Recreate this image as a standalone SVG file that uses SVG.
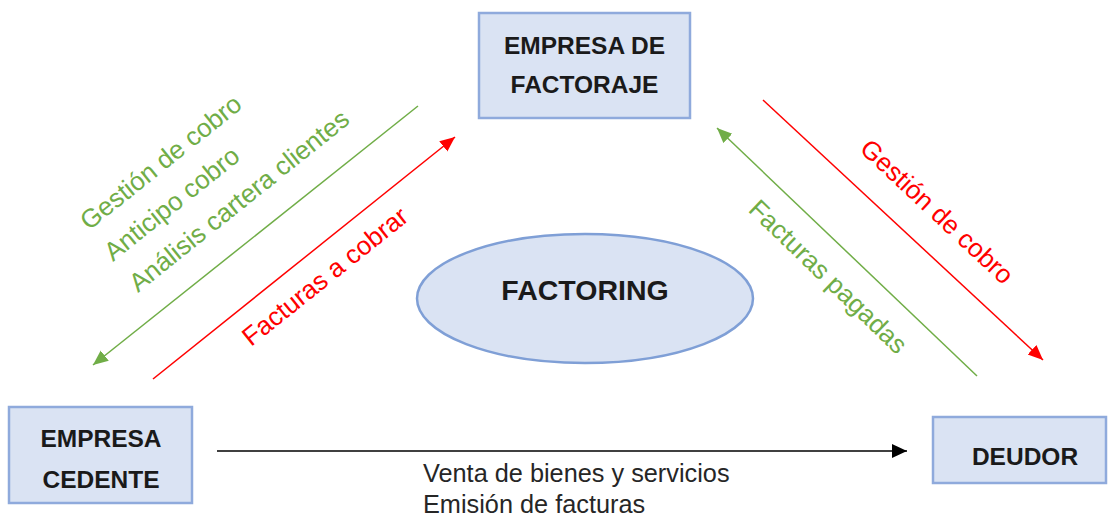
<svg xmlns="http://www.w3.org/2000/svg" width="1108" height="528" viewBox="0 0 1108 528">
<style>
.box{fill:#DAE3F3;stroke:#8FAADC;stroke-width:2.5}
.bt{font-family:"Liberation Sans",Arial,sans-serif;font-weight:bold;font-size:24.5px;fill:#1a1a1a;text-anchor:middle}
.lbl{font-family:"Liberation Sans",Arial,sans-serif;font-size:26px}
.g{fill:#70AD47}
.r{fill:#FF0000}
.k{font-family:"Liberation Sans",Arial,sans-serif;font-size:25.3px;fill:#262626}
</style>
<defs>
<marker id="ar" markerUnits="userSpaceOnUse" markerWidth="16" markerHeight="14" refX="15" refY="6.5" orient="auto"><path d="M0,0 L15,6.5 L0,13 z" fill="#FF0000"/></marker>
<marker id="ag" markerUnits="userSpaceOnUse" markerWidth="16" markerHeight="14" refX="15" refY="6.5" orient="auto"><path d="M0,0 L15,6.5 L0,13 z" fill="#70AD47"/></marker>
<marker id="ak" markerUnits="userSpaceOnUse" markerWidth="16" markerHeight="14" refX="15" refY="7" orient="auto"><path d="M0,0 L15,7 L0,14 z" fill="#000"/></marker>
</defs>
<g id="connectors">
<line x1="418" y1="106" x2="93" y2="365" stroke="#70AD47" stroke-width="1.5" marker-end="url(#ag)"/>
<line x1="153" y1="379" x2="455" y2="137" stroke="#FF0000" stroke-width="1.5" marker-end="url(#ar)"/>
<line x1="763" y1="100" x2="1043" y2="360" stroke="#FF0000" stroke-width="1.5" marker-end="url(#ar)"/>
<line x1="977" y1="376" x2="717" y2="128" stroke="#70AD47" stroke-width="1.5" marker-end="url(#ag)"/>
<line x1="217" y1="451" x2="907" y2="451" stroke="#000" stroke-width="1.5" marker-end="url(#ak)"/>
<text class="lbl g" transform="translate(89,231) rotate(-38.7)">Gestión de cobro</text>
<text class="lbl g" transform="translate(113,262) rotate(-38.7)">Anticipo cobro</text>
<text class="lbl g" transform="translate(138,293) rotate(-38.7)">Análisis cartera clientes</text>
<text class="lbl r" transform="translate(251,347) rotate(-38.7)">Facturas a cobrar</text>
<text class="lbl r" text-anchor="middle" transform="translate(931,218) rotate(43)">Gestión de cobro</text>
<text class="lbl g" text-anchor="middle" transform="translate(822,283) rotate(44)">Facturas pagadas</text>
<text class="k" x="423" y="482">Venta de bienes y servicios</text>
<text class="k" x="423" y="513">Emisión de facturas</text>
</g>
<g id="factoraje">
<rect class="box" x="479" y="13" width="211" height="105"/>
<text class="bt" x="584.5" y="54">EMPRESA DE</text>
<text class="bt" x="584.5" y="93">FACTORAJE</text>
</g>
<g id="cedente">
<rect class="box" x="9" y="407" width="183" height="96"/>
<text class="bt" x="101" y="447">EMPRESA</text>
<text class="bt" x="101" y="488">CEDENTE</text>
</g>
<g id="deudor">
<rect class="box" x="933" y="417" width="173" height="66"/>
<text class="bt" x="1025" y="465">DEUDOR</text>
</g>
<g id="factoring">
<ellipse cx="585" cy="298.5" rx="168" ry="64.5" fill="#DAE3F3" stroke="#7F9FD6" stroke-width="2.5"/>
<text class="bt" x="585" y="300" style="font-size:28.5px">FACTORING</text>
</g>
</svg>
